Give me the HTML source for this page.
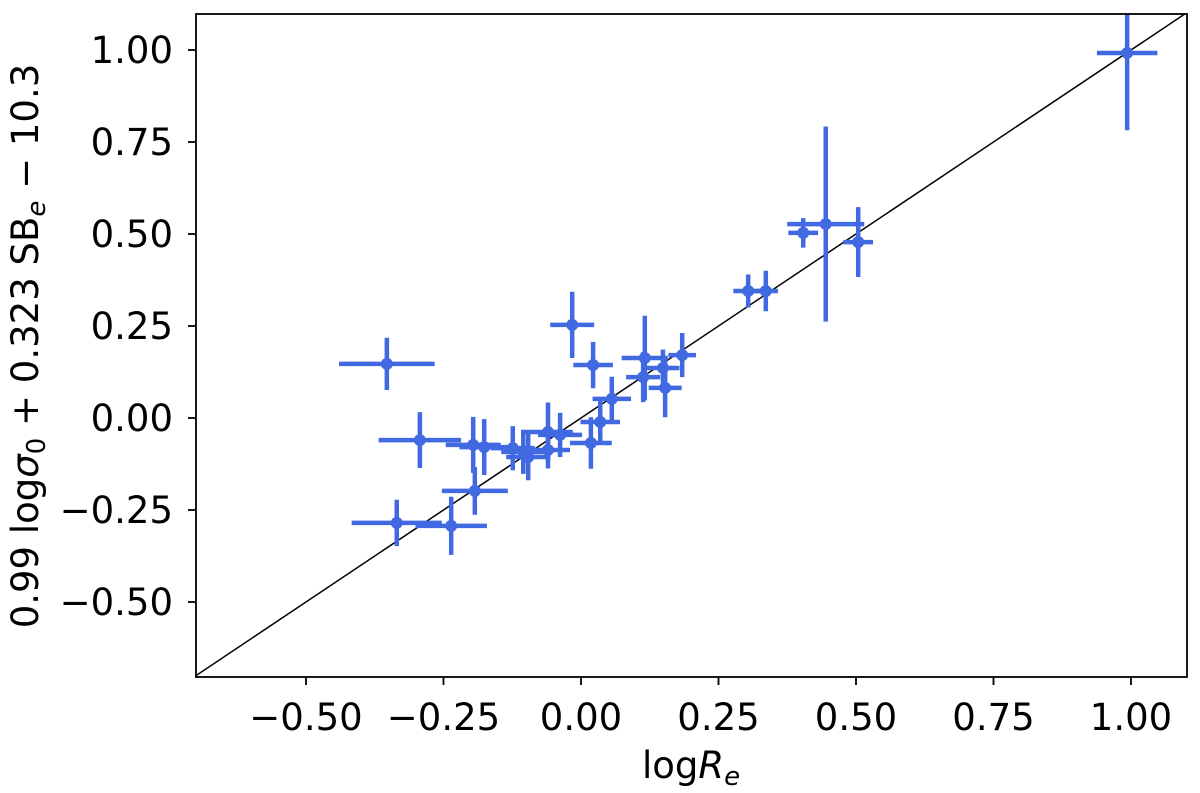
<!DOCTYPE html>
<html><head><meta charset="utf-8"><style>
body{margin:0;background:#fff;width:1200px;height:788px;overflow:hidden}
svg text{font-family:"DejaVu Sans","Liberation Sans",sans-serif;fill:#000}
</style></head><body>
<svg id="chart" width="1200" height="788" xmlns="http://www.w3.org/2000/svg">
<defs><clipPath id="clip"><rect x="196" y="14" width="991" height="663"/></clipPath></defs>
<g id="identity-line-g" clip-path="url(#clip)"></g>
<g id="points" clip-path="url(#clip)"></g>
<rect x="196" y="14" width="991" height="663" fill="none" stroke="#000" stroke-width="1.8"/>
<g id="axes"></g>
<text x="691" y="778" font-size="37" text-anchor="middle">log<tspan font-style="italic">R</tspan><tspan font-style="italic" font-size="26" dy="7">e</tspan></text>
<text transform="translate(38,346) rotate(-90)" font-size="37" text-anchor="middle">0.99 log<tspan font-style="italic">σ</tspan><tspan font-size="26" dy="7">0</tspan><tspan dy="-7"> + 0.323 SB</tspan><tspan font-style="italic" font-size="26" dy="7">e</tspan><tspan dy="-7"> − 10.3</tspan></text>
</svg>
<script>
const xVals=[-0.353,-0.293,-0.196,-0.176,-0.193,-0.335,-0.236,-0.124,-0.105,-0.096,-0.060,-0.038,-0.060,0.018,0.035,0.056,-0.016,0.022,0.116,0.113,0.149,0.153,0.184,0.304,0.336,0.404,0.445,0.504,0.993];
const yVals=[0.147,-0.060,-0.073,-0.079,-0.198,-0.285,-0.293,-0.082,-0.092,-0.106,-0.038,-0.046,-0.087,-0.068,-0.011,0.052,0.253,0.144,0.163,0.111,0.136,0.082,0.171,0.345,0.345,0.503,0.527,0.478,0.992];
const xErr=[0.087,0.075,0.05,0.045,0.06,0.082,0.065,0.04,0.04,0.04,0.045,0.04,0.04,0.038,0.036,0.035,0.04,0.036,0.042,0.031,0.03,0.03,0.025,0.027,0.022,0.027,0.07,0.027,0.055];
const yErr=[0.071,0.076,0.076,0.076,0.065,0.063,0.079,0.06,0.06,0.063,0.08,0.06,0.05,0.07,0.06,0.06,0.09,0.063,0.115,0.068,0.05,0.08,0.06,0.045,0.055,0.04,0.265,0.095,0.21];
const xTicks=[-0.5,-0.25,0,0.25,0.5,0.75,1.0];
const yTicks=[-0.5,-0.25,0,0.25,0.5,0.75,1.0];
const NS="http://www.w3.org/2000/svg";
const X=v=>581+v*550, Y=v=>418-v*368;
function mk(t,a,p){const e=document.createElementNS(NS,t);for(const k in a)e.setAttribute(k,a[k]);p.appendChild(e);return e;}
const lg=document.getElementById('identity-line-g');
const ln=mk('line',{x1:X(-0.7),y1:Y(-0.7),x2:X(1.1),y2:Y(1.1),stroke:'#000','stroke-width':1.5},lg);


const pg=document.getElementById('points');
const C='#4169e1';
xVals.forEach((xv,i)=>{
  const g=mk('g',{},pg);
  
  
  mk('line',{x1:X(xv-xErr[i]),x2:X(xv+xErr[i]),y1:Y(yVals[i]),y2:Y(yVals[i]),stroke:C,'stroke-width':4.5},g);
  mk('line',{x1:X(xv),x2:X(xv),y1:Y(yVals[i]-yErr[i]),y2:Y(yVals[i]+yErr[i]),stroke:C,'stroke-width':4.5},g);
  mk('circle',{cx:X(xv),cy:Y(yVals[i]),r:6,fill:C},g);
});
const ax=document.getElementById('axes');
const fmt=v=>(v<0?'−':'')+Math.abs(v).toFixed(2);
xTicks.forEach(v=>{
  const t=mk('line',{x1:X(v),x2:X(v),y1:677,y2:685,stroke:'#000','stroke-width':1.8},ax);
  
  
  const l=mk('text',{x:X(v),y:730,'font-size':37,'text-anchor':'middle'},ax);
  l.textContent=fmt(v);
  
  
});
yTicks.forEach(v=>{
  const t=mk('line',{x1:188,x2:196,y1:Y(v),y2:Y(v),stroke:'#000','stroke-width':1.8},ax);
  
  
  const l=mk('text',{x:173,y:Y(v)+13,'font-size':37,'text-anchor':'end'},ax);
  l.textContent=fmt(v);
  
  
});
</script>
</body></html>
